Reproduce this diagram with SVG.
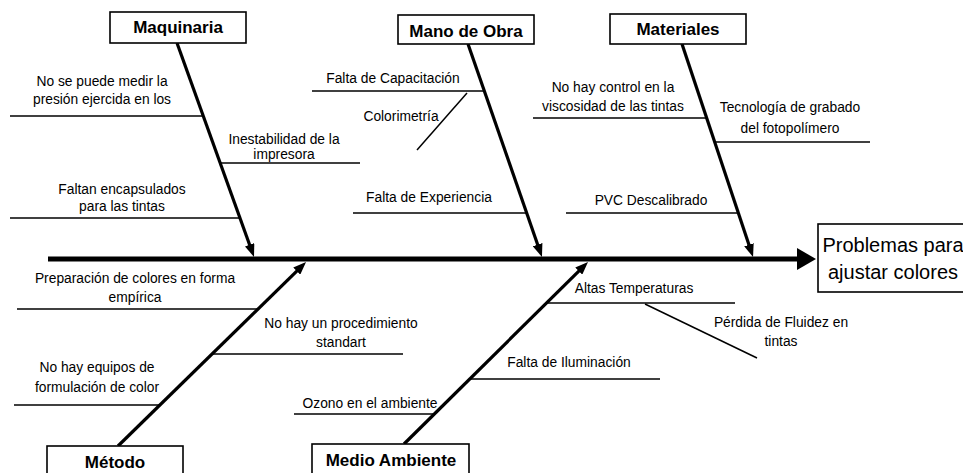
<svg xmlns="http://www.w3.org/2000/svg" width="963" height="473" viewBox="0 0 963 473">
<style>
text{font-family:"Liberation Sans",Arial,sans-serif;fill:#000}
.c{font-size:13.8px;text-anchor:middle}
.h{font-size:17px;font-weight:bold;text-anchor:middle}
.e{font-size:20px;text-anchor:middle}
.box{fill:#fff;stroke:#000;stroke-width:1.6}
.sub{stroke:#000;stroke-width:1.5;fill:none}
.bone{stroke:#000;stroke-width:3.2;fill:none}
.spine{stroke:#000;stroke-width:5;fill:none}
</style>
<defs>
<marker id="ah" viewBox="0 0 13 10" refX="4" refY="5" markerWidth="13" markerHeight="10" markerUnits="userSpaceOnUse" orient="auto">
<path d="M0,0 L13,5 L0,10 z" fill="#000"/>
</marker>
</defs>
<rect width="963" height="473" fill="#fff"/>
<g id="connectors">
<line class="spine" x1="48" y1="259" x2="800" y2="259"/>
<polygon points="797,248 816,259 797,270" fill="#000"/>
<line class="bone" x1="177" y1="43" x2="250.95" y2="248.5" marker-end="url(#ah)"/>
<line class="bone" x1="468" y1="44" x2="539" y2="248.5" marker-end="url(#ah)"/>
<line class="bone" x1="682" y1="44" x2="750.2" y2="248.5" marker-end="url(#ah)"/>
<line class="bone" x1="118" y1="446" x2="299.6" y2="268.3" marker-end="url(#ah)"/>
<line class="bone" x1="404" y1="444" x2="581.6" y2="268.3" marker-end="url(#ah)"/>
</g>
<g id="effect">
<rect class="box" x="818" y="224" width="150" height="68"/>
<text class="e" x="893" y="252">Problemas para</text>
<text class="e" x="893" y="279">ajustar colores</text>
</g>
<g id="maquinaria">
<rect class="box" x="110" y="12" width="136" height="31"/>
<text class="h" x="178" y="33">Maquinaria</text>
</g>
<g id="mano-de-obra">
<rect class="box" x="398" y="15" width="136" height="29"/>
<text class="h" x="466" y="37">Mano de Obra</text>
</g>
<g id="materiales">
<rect class="box" x="610" y="14" width="136" height="30"/>
<text class="h" x="678" y="35">Materiales</text>
</g>
<g id="metodo">
<rect class="box" x="47" y="446" width="136" height="32"/>
<text class="h" x="115" y="468">Método</text>
</g>
<g id="medio-ambiente">
<rect class="box" x="312" y="444" width="157" height="34"/>
<text class="h" x="391" y="466">Medio Ambiente</text>
</g>
<g id="cause-presion">
<line class="sub" x1="10" y1="116" x2="203" y2="116"/>
<text class="c" x="102" y="86">No se puede medir la</text>
<text class="c" x="102" y="104">presión ejercida en los</text>
</g>
<g id="cause-encapsulados">
<line class="sub" x1="10" y1="218" x2="240" y2="218"/>
<text class="c" x="122" y="194">Faltan encapsulados</text>
<text class="c" x="122" y="211">para las tintas</text>
</g>
<g id="cause-inestabilidad">
<line class="sub" x1="220" y1="163" x2="360" y2="163"/>
<text class="c" x="284" y="144">Inestabilidad de la</text>
<text class="c" x="284" y="159">impresora</text>
</g>
<g id="cause-capacitacion">
<line class="sub" x1="312" y1="91" x2="483" y2="91"/>
<text class="c" x="393" y="83">Falta de Capacitación</text>
</g>
<g id="cause-colorimetria">
<line class="sub" x1="467" y1="93" x2="417" y2="150"/>
<text class="c" x="401" y="121">Colorimetría</text>
</g>
<g id="cause-experiencia">
<line class="sub" x1="353" y1="213" x2="526" y2="213"/>
<text class="c" x="429" y="202">Falta de Experiencia</text>
</g>
<g id="cause-viscosidad">
<line class="sub" x1="533" y1="118" x2="706" y2="118"/>
<text class="c" x="613" y="92">No hay control en la</text>
<text class="c" x="613" y="111">viscosidad de las tintas</text>
</g>
<g id="cause-pvc">
<line class="sub" x1="566" y1="213" x2="738" y2="213"/>
<text class="c" x="651" y="205">PVC Descalibrado</text>
</g>
<g id="cause-tecnologia">
<line class="sub" x1="714.5" y1="142" x2="870" y2="142"/>
<text class="c" x="790" y="112">Tecnología de grabado</text>
<text class="c" x="790" y="133">del fotopolímero</text>
</g>
<g id="cause-preparacion">
<line class="sub" x1="17" y1="309" x2="257" y2="309"/>
<text class="c" x="135" y="283">Preparación de colores en forma</text>
<text class="c" x="135" y="302">empírica</text>
</g>
<g id="cause-equipos">
<line class="sub" x1="14" y1="405" x2="161" y2="405"/>
<text class="c" x="97" y="372">No hay equipos de</text>
<text class="c" x="97" y="392">formulación de color</text>
</g>
<g id="cause-procedimiento">
<line class="sub" x1="212" y1="354" x2="403" y2="354"/>
<text class="c" x="341" y="328">No hay un procedimiento</text>
<text class="c" x="341" y="347">standart</text>
</g>
<g id="cause-ozono">
<line class="sub" x1="294" y1="414" x2="433" y2="414"/>
<text class="c" x="370" y="408">Ozono en el ambiente</text>
</g>
<g id="cause-iluminacion">
<line class="sub" x1="471" y1="379" x2="660" y2="379"/>
<text class="c" x="569" y="367">Falta de Iluminación</text>
</g>
<g id="cause-temperaturas">
<line class="sub" x1="547" y1="303" x2="735" y2="303"/>
<text class="c" x="634" y="293">Altas Temperaturas</text>
</g>
<g id="cause-fluidez">
<line class="sub" x1="645" y1="304" x2="757" y2="358"/>
<text class="c" x="781" y="327">Pérdida de Fluidez en</text>
<text class="c" x="781" y="346">tintas</text>
</g>
</svg>
